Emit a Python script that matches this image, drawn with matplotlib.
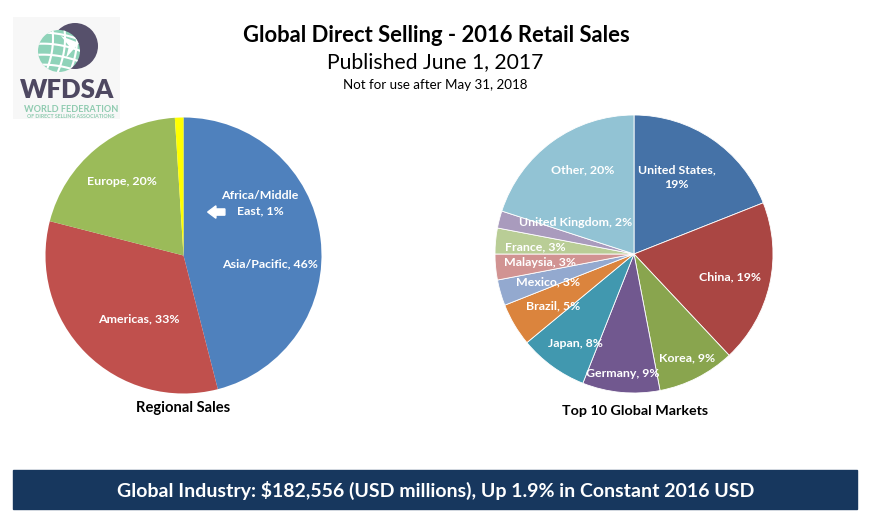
import numpy as np
import matplotlib.pyplot as plt
from matplotlib.patches import Circle, Rectangle, Polygon, FancyArrow

plt.rcParams['font.family'] = ['Lato', 'DejaVu Sans']

W, H = 874, 525

title = 'Global Direct Selling - 2016 Retail Sales'
subtitle = 'Published June 1, 2017'
note = 'Not for use after May 31, 2018'
banner = 'Global Industry: $182,556 (USD millions), Up 1.9% in Constant 2016 USD'

region_names = ['Asia/Pacific', 'Americas', 'Europe', 'Africa/Middle East']
region_share = [46, 33, 20, 1]
region_colors = ['#4F81BD', '#C0504D', '#9BBB59', '#FFFF00']

market_names = ['United States', 'China', 'Korea', 'Germany', 'Japan', 'Brazil',
                'Mexico', 'Malaysia', 'France', 'United Kingdom', 'Other']
market_share = [19, 19, 9, 9, 8, 5, 3, 3, 3, 2, 20]
market_colors = ['#4572A7', '#AA4643', '#89A54E', '#71588F', '#4198AF', '#DB843D',
                 '#93A9CF', '#D19392', '#B9CD96', '#A99BBD', '#92C3D4']

# label layout: distance from centre (fraction of radius), clockwise angle tweak (deg)
region_dist = [0.63, 0.56, 0.70, None]
region_rot = [13, -10, 0, 0]
market_dist = [0.63, 0.71, 0.84, 0.86, 0.77, 0.69, 0.65, 0.68, 0.71, 0.48, 0.71]
market_rot = [-5, 1, 0, 0, -3, -2, -2, 0, -1, 14, 5]
line_breaks = {'United States': 'United States,\n{}%', 'Africa/Middle East': 'Africa/Middle\nEast, {}%'}

LABEL_SIZE = 8.9


def label_text(name, v):
    return line_breaks.get(name, name + ', {}%').format(v)


def pie_axes(fig, cx, cy, r):
    ax = fig.add_axes([(cx - r) / W, 1 - (cy + r) / H, 2 * r / W, 2 * r / H])
    return ax


def draw_pie(ax, values, colors, names, dist, rot, edge):
    wedges, _ = ax.pie(values, colors=colors, startangle=90, counterclock=False,
                       wedgeprops=dict(edgecolor='white', linewidth=edge))
    ax.set_xlim(-1, 1)
    ax.set_ylim(-1, 1)
    for w, name, v, d, a in zip(wedges, names, values, dist, rot):
        if d is None:
            continue
        th = np.deg2rad((w.theta1 + w.theta2) / 2 - a)
        ax.text(d * np.cos(th), d * np.sin(th), label_text(name, v), color='white',
                fontsize=LABEL_SIZE, fontweight='bold', ha='center', va='center', linespacing=1.4)
    return wedges


fig = plt.figure(figsize=(W / 100, H / 100), dpi=100)
bg = fig.add_axes([0, 0, 1, 1])
bg.set_xlim(0, W)
bg.set_ylim(H, 0)
bg.axis('off')

# headings
bg.text(436, 35, title, fontsize=15.8, fontweight='bold', ha='center', va='center')
bg.text(435, 62, subtitle, fontsize=15.2, ha='center', va='center')
bg.text(435, 85, note, fontsize=9.6, ha='center', va='center')

# banner
bg.add_patch(Rectangle((13, 470), 844, 39, color='#17375E'))
bg.text(436, 490, banner, fontsize=14, fontweight='bold', color='white', ha='center', va='center')

# logo
bg.add_patch(Rectangle((13, 17), 107, 102, color='#F7F7F7', lw=0))
bg.add_patch(Circle((75, 46), 23, color='#56506B', lw=0))
globe = Circle((59, 51), 21, color='#8FD3B9', lw=0)
bg.add_patch(globe)
t = np.linspace(-1, 1, 40)
for yy in [37, 48, 59, 69]:
    ln, = bg.plot(59 + 24 * t, yy + 4 * t - 3 * (1 - t ** 2), color='white', lw=1.5)
    ln.set_clip_path(globe)
for xx in [48, 60, 72]:
    ln, = bg.plot(xx - 4 * t + 4 * (1 - t ** 2), 51 + 25 * t, color='white', lw=1.5)
    ln.set_clip_path(globe)
bg.add_patch(Polygon([[61, 36], [79, 43], [66, 58], [69, 46]], color='white', lw=0))
bg.text(67, 90.5, 'WFDSA', fontsize=18.5, fontweight='heavy', color='#4E4861', ha='center', va='center')
bg.text(71, 109, 'WORLD FEDERATION', fontsize=6.6, fontweight='bold', color='#8FCBB0', ha='center', va='center')
bg.text(71, 116, 'OF DIRECT SELLING ASSOCIATIONS', fontsize=3.8, fontweight='bold', color='#8FCBB0', ha='center', va='center')

# regional pie
ax1 = pie_axes(fig, 183.5, 255.5, 138)
draw_pie(ax1, region_share, region_colors, region_names, region_dist, region_rot, 0)
ax1.text(0.554, 0.38, label_text(region_names[3], region_share[3]), color='white',
         fontsize=LABEL_SIZE, fontweight='bold', ha='center', va='center', linespacing=1.4)
ax1.add_patch(FancyArrow(0.30, 0.315, -0.125, 0, width=0.045, head_width=0.09,
                         head_length=0.06, color='white', length_includes_head=True))
bg.text(183, 408, 'Regional Sales', fontsize=10.6, fontweight='bold', ha='center', va='center')

# top markets pie
ax2 = pie_axes(fig, 634, 254, 139)
draw_pie(ax2, market_share, market_colors, market_names, market_dist, market_rot, 0.6)
bg.text(635, 411, 'Top 10 Global Markets', fontsize=10.3, fontweight='bold', ha='center', va='center')

fig.savefig('out.png', dpi=100)
